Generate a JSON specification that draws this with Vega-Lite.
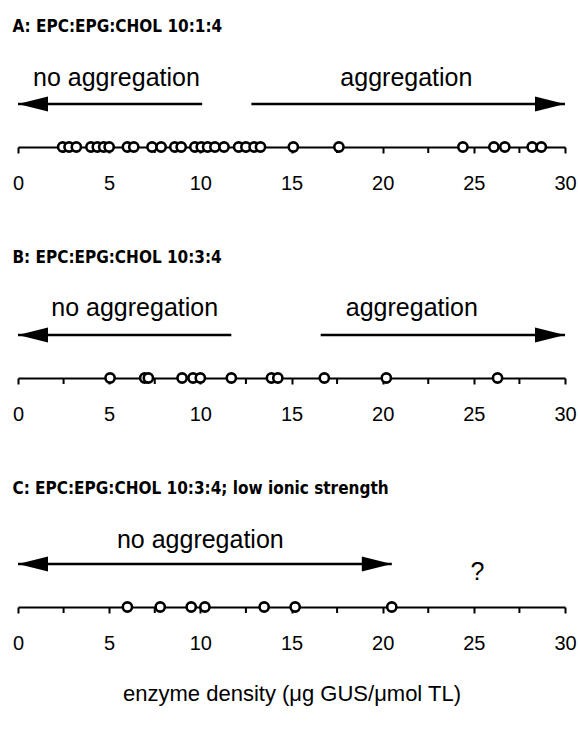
{
  "$schema": "https://vega.github.io/schema/vega-lite/v6.json",
  "padding": {"left": 12, "top": 18, "right": 8, "bottom": 5},
  "background": "white",
  "config": {
    "view": {"stroke": null},
    "concat": {"spacing": 56},
    "title": {"font": "DejaVu Sans Condensed", "fontWeight": "bold", "fontSize": 17, "anchor": "start", "color": "black", "offset": 11},
    "axisX": {
      "domainColor": "black", "domainWidth": 2, "tickColor": "black", "tickWidth": 2, "tickSize": 6,
      "labelFont": "Liberation Sans", "labelFontSize": 20, "labelColor": "black", "labelPadding": 20,
      "grid": false, "labelFlush": false, "labelOverlap": false,
      "titleFont": "Liberation Sans", "titleFontSize": 22, "titleFontWeight": "normal", "titleColor": "black", "titlePadding": 30
    }
  },
  "datasets": {
    "minor": [
      {"x": 2.5}, {"x": 7.5}, {"x": 12.5}, {"x": 17.5}, {"x": 22.5}, {"x": 27.5}
    ],
    "points": [
      {"panel": "A", "x": 2.45}, {"panel": "A", "x": 2.8}, {"panel": "A", "x": 3.2},
      {"panel": "A", "x": 4.0}, {"panel": "A", "x": 4.35}, {"panel": "A", "x": 4.7}, {"panel": "A", "x": 5.0},
      {"panel": "A", "x": 6.0}, {"panel": "A", "x": 6.35}, {"panel": "A", "x": 7.35}, {"panel": "A", "x": 7.85},
      {"panel": "A", "x": 8.6}, {"panel": "A", "x": 8.95}, {"panel": "A", "x": 9.7}, {"panel": "A", "x": 10.05},
      {"panel": "A", "x": 10.4}, {"panel": "A", "x": 10.8}, {"panel": "A", "x": 11.3}, {"panel": "A", "x": 12.1},
      {"panel": "A", "x": 12.5}, {"panel": "A", "x": 12.95}, {"panel": "A", "x": 13.3}, {"panel": "A", "x": 15.1},
      {"panel": "A", "x": 17.6}, {"panel": "A", "x": 24.4}, {"panel": "A", "x": 26.1}, {"panel": "A", "x": 26.7},
      {"panel": "A", "x": 28.2}, {"panel": "A", "x": 28.7},
      {"panel": "B", "x": 5.05}, {"panel": "B", "x": 6.95}, {"panel": "B", "x": 7.15}, {"panel": "B", "x": 9.0},
      {"panel": "B", "x": 9.6}, {"panel": "B", "x": 10.0}, {"panel": "B", "x": 11.7}, {"panel": "B", "x": 13.9},
      {"panel": "B", "x": 14.25}, {"panel": "B", "x": 16.8}, {"panel": "B", "x": 20.2}, {"panel": "B", "x": 26.3},
      {"panel": "C", "x": 6.0}, {"panel": "C", "x": 7.8}, {"panel": "C", "x": 9.5}, {"panel": "C", "x": 10.25},
      {"panel": "C", "x": 13.5}, {"panel": "C", "x": 15.2}, {"panel": "C", "x": 20.5}
    ],
    "arrows": [
      {"panel": "A", "x1": 0, "x2": 10.1, "y": 43},
      {"panel": "A", "x1": 12.8, "x2": 30, "y": 43},
      {"panel": "B", "x1": 0, "x2": 11.7, "y": 43},
      {"panel": "B", "x1": 16.6, "x2": 30, "y": 43},
      {"panel": "C", "x1": 0, "x2": 20.5, "y": 43}
    ],
    "heads": [
      {"panel": "A", "x": 0, "y": 43, "dir": "left"},
      {"panel": "A", "x": 30, "y": 43, "dir": "right"},
      {"panel": "B", "x": 0, "y": 43, "dir": "left"},
      {"panel": "B", "x": 30, "y": 43, "dir": "right"},
      {"panel": "C", "x": 0, "y": 43, "dir": "left"},
      {"panel": "C", "x": 20.5, "y": 43, "dir": "right"}
    ],
    "labels": [
      {"panel": "A", "x": 5.4, "y": 69, "text": "no aggregation"},
      {"panel": "A", "x": 21.3, "y": 69, "text": "aggregation"},
      {"panel": "B", "x": 6.4, "y": 70, "text": "no aggregation"},
      {"panel": "B", "x": 21.6, "y": 70, "text": "aggregation"},
      {"panel": "C", "x": 10.0, "y": 67, "text": "no aggregation"},
      {"panel": "C", "x": 25.2, "y": 35, "text": "?"}
    ]
  },
  "vconcat": [
    {
      "title": "A: EPC:EPG:CHOL 10:1:4",
      "width": 547, "height": 100,
      "layer": [
        {"data": {"name": "minor"}, "mark": {"type": "rule", "strokeWidth": 2, "color": "black"},
         "encoding": {"x": {"field": "x", "type": "quantitative", "scale": {"domain": [0, 30]}, "title": null, "axis": {"values": [0, 5, 10, 15, 20, 25, 30]}}, "y": {"datum": 0, "type": "quantitative", "scale": {"domain": [0, 100]}, "axis": null}, "y2": {"datum": -6}}},
        {"data": {"name": "arrows"}, "transform": [{"filter": "datum.panel === 'A'"}], "mark": {"type": "rule", "strokeWidth": 2.5, "color": "black"},
         "encoding": {"x": {"field": "x1", "type": "quantitative"}, "x2": {"field": "x2"}, "y": {"field": "y", "type": "quantitative"}}},
        {"data": {"name": "heads"}, "transform": [{"filter": "datum.panel === 'A'"}], "mark": {"type": "point", "filled": true, "color": "black", "size": 900, "opacity": 1},
         "encoding": {"x": {"field": "x", "type": "quantitative"}, "y": {"field": "y", "type": "quantitative"},
           "shape": {"field": "dir", "type": "nominal", "scale": {"domain": ["left", "right"], "range": ["M0,0L2,-0.5L2,0.5Z", "M0,0L-2,-0.5L-2,0.5Z"]}, "legend": null}}},
        {"data": {"name": "labels"}, "transform": [{"filter": "datum.panel === 'A'"}], "mark": {"type": "text", "font": "Liberation Sans", "fontSize": 25, "color": "black", "baseline": "middle"},
         "encoding": {"x": {"field": "x", "type": "quantitative"}, "y": {"field": "y", "type": "quantitative"}, "text": {"field": "text"}}},
        {"data": {"name": "points"}, "transform": [{"filter": "datum.panel === 'A'"}], "mark": {"type": "point", "shape": "circle", "filled": false, "fill": "white", "fillOpacity": 1, "stroke": "black", "strokeWidth": 2.6, "size": 85, "opacity": 1},
         "encoding": {"x": {"field": "x", "type": "quantitative"}, "y": {"datum": 0, "type": "quantitative"}}}
      ]
    },
    {
      "title": "B: EPC:EPG:CHOL 10:3:4",
      "width": 547, "height": 100,
      "layer": [
        {"data": {"name": "minor"}, "mark": {"type": "rule", "strokeWidth": 2, "color": "black"},
         "encoding": {"x": {"field": "x", "type": "quantitative", "scale": {"domain": [0, 30]}, "title": null, "axis": {"values": [0, 5, 10, 15, 20, 25, 30]}}, "y": {"datum": 0, "type": "quantitative", "scale": {"domain": [0, 100]}, "axis": null}, "y2": {"datum": -6}}},
        {"data": {"name": "arrows"}, "transform": [{"filter": "datum.panel === 'B'"}], "mark": {"type": "rule", "strokeWidth": 2.5, "color": "black"},
         "encoding": {"x": {"field": "x1", "type": "quantitative"}, "x2": {"field": "x2"}, "y": {"field": "y", "type": "quantitative"}}},
        {"data": {"name": "heads"}, "transform": [{"filter": "datum.panel === 'B'"}], "mark": {"type": "point", "filled": true, "color": "black", "size": 900, "opacity": 1},
         "encoding": {"x": {"field": "x", "type": "quantitative"}, "y": {"field": "y", "type": "quantitative"},
           "shape": {"field": "dir", "type": "nominal", "scale": {"domain": ["left", "right"], "range": ["M0,0L2,-0.5L2,0.5Z", "M0,0L-2,-0.5L-2,0.5Z"]}, "legend": null}}},
        {"data": {"name": "labels"}, "transform": [{"filter": "datum.panel === 'B'"}], "mark": {"type": "text", "font": "Liberation Sans", "fontSize": 25, "color": "black", "baseline": "middle"},
         "encoding": {"x": {"field": "x", "type": "quantitative"}, "y": {"field": "y", "type": "quantitative"}, "text": {"field": "text"}}},
        {"data": {"name": "points"}, "transform": [{"filter": "datum.panel === 'B'"}], "mark": {"type": "point", "shape": "circle", "filled": false, "fill": "white", "fillOpacity": 1, "stroke": "black", "strokeWidth": 2.6, "size": 85, "opacity": 1},
         "encoding": {"x": {"field": "x", "type": "quantitative"}, "y": {"datum": 0, "type": "quantitative"}}}
      ]
    },
    {
      "title": {"text": "C: EPC:EPG:CHOL 10:3:4; low ionic strength", "offset": 9},
      "width": 547, "height": 100,
      "layer": [
        {"data": {"name": "minor"}, "mark": {"type": "rule", "strokeWidth": 2, "color": "black"},
         "encoding": {"x": {"field": "x", "type": "quantitative", "scale": {"domain": [0, 30]}, "title": "enzyme density (μg GUS/μmol TL)", "axis": {"values": [0, 5, 10, 15, 20, 25, 30]}}, "y": {"datum": 0, "type": "quantitative", "scale": {"domain": [0, 100]}, "axis": null}, "y2": {"datum": -6}}},
        {"data": {"name": "arrows"}, "transform": [{"filter": "datum.panel === 'C'"}], "mark": {"type": "rule", "strokeWidth": 2.5, "color": "black"},
         "encoding": {"x": {"field": "x1", "type": "quantitative"}, "x2": {"field": "x2"}, "y": {"field": "y", "type": "quantitative"}}},
        {"data": {"name": "heads"}, "transform": [{"filter": "datum.panel === 'C'"}], "mark": {"type": "point", "filled": true, "color": "black", "size": 900, "opacity": 1},
         "encoding": {"x": {"field": "x", "type": "quantitative"}, "y": {"field": "y", "type": "quantitative"},
           "shape": {"field": "dir", "type": "nominal", "scale": {"domain": ["left", "right"], "range": ["M0,0L2,-0.5L2,0.5Z", "M0,0L-2,-0.5L-2,0.5Z"]}, "legend": null}}},
        {"data": {"name": "labels"}, "transform": [{"filter": "datum.panel === 'C'"}], "mark": {"type": "text", "font": "Liberation Sans", "fontSize": 25, "color": "black", "baseline": "middle"},
         "encoding": {"x": {"field": "x", "type": "quantitative"}, "y": {"field": "y", "type": "quantitative"}, "text": {"field": "text"}}},
        {"data": {"name": "points"}, "transform": [{"filter": "datum.panel === 'C'"}], "mark": {"type": "point", "shape": "circle", "filled": false, "fill": "white", "fillOpacity": 1, "stroke": "black", "strokeWidth": 2.6, "size": 85, "opacity": 1},
         "encoding": {"x": {"field": "x", "type": "quantitative"}, "y": {"datum": 0, "type": "quantitative"}}}
      ]
    }
  ]
}
